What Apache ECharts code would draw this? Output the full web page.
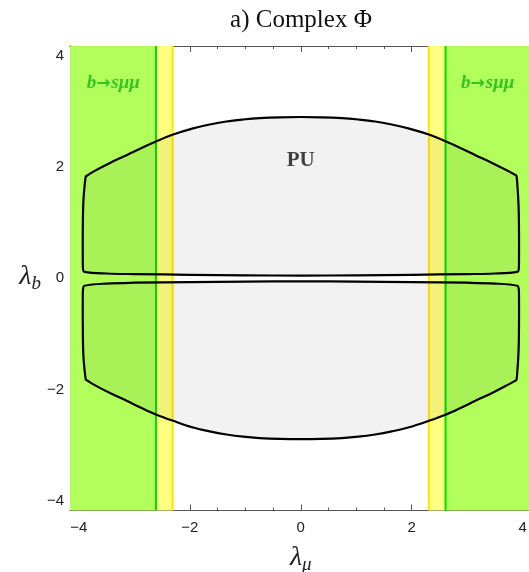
<!DOCTYPE html>
<html>
<head>
<meta charset="utf-8">
<script src="https://cdn.jsdelivr.net/npm/echarts@6/dist/echarts.min.js"></script>
<style>
  html, body { margin: 0; padding: 0; background: #fff; }
  #chart { width: 529px; height: 572px; }
</style>
</head>
<body>
<div id="chart"></div>
<script>
// axis ranges and ticks
const xRange = [-4.16, 4.16];
const yRange = [-4.17, 4.17];
const majorTicks = [-4, -2, 0, 2, 4];
const minorTicks = [-4, -3.5, -3, -2.5, -2, -1.5, -1, -0.5, 0, 0.5, 1, 1.5, 2, 2.5, 3, 3.5, 4];

// excluded bands [from, to]
const greenBands = [[-4.16, -2.61], [2.61, 4.16]];
const yellowBands = [[-2.61, -2.31], [2.31, 2.61]];

// PU region outlines
const upperOutline = [
  [-3.90, 0.115], [-3.925, 0.16], [-3.93, 0.4], [-3.93, 0.8], [-3.925, 1.2], [-3.915, 1.45],
  [-3.895, 1.68], [-3.882, 1.79], [-3.874, 1.83], [-3.85, 1.845], [-3.74, 1.915], [-3.44, 2.07],
  [-3.14, 2.21], [-2.87, 2.34], [-2.60, 2.46], [-2.30, 2.58], [-1.94, 2.69], [-1.64, 2.76],
  [-1.34, 2.815], [-1.04, 2.85], [-0.74, 2.875], [-0.37, 2.89], [0, 2.895], [0.37, 2.89],
  [0.74, 2.875], [1.04, 2.85], [1.34, 2.815], [1.64, 2.76], [1.94, 2.69], [2.31, 2.58],
  [2.61, 2.46], [2.88, 2.34], [3.15, 2.21], [3.45, 2.07], [3.74, 1.925], [3.86, 1.86],
  [3.886, 1.845], [3.895, 1.80], [3.905, 1.68], [3.92, 1.45], [3.93, 1.2], [3.935, 0.8],
  [3.935, 0.4], [3.93, 0.16], [3.905, 0.115], [3.5, 0.085], [3.0, 0.075], [2.0, 0.062],
  [1.0, 0.052], [0, 0.048], [-1.0, 0.052], [-2.0, 0.062], [-3.0, 0.075], [-3.5, 0.085]
];
const lowerOutline = [
  [-3.90, -0.135], [-3.925, -0.19], [-3.93, -0.4], [-3.93, -0.8], [-3.925, -1.2], [-3.915, -1.45],
  [-3.895, -1.67], [-3.882, -1.78], [-3.874, -1.82], [-3.85, -1.835], [-3.74, -1.905], [-3.44, -2.06],
  [-3.14, -2.20], [-2.87, -2.33], [-2.60, -2.45], [-2.30, -2.56], [-1.94, -2.68], [-1.64, -2.75],
  [-1.34, -2.805], [-1.04, -2.845], [-0.74, -2.87], [-0.37, -2.885], [0, -2.89], [0.37, -2.885],
  [0.74, -2.87], [1.04, -2.845], [1.34, -2.805], [1.64, -2.75], [1.94, -2.68], [2.31, -2.56],
  [2.61, -2.45], [2.88, -2.33], [3.15, -2.20], [3.45, -2.06], [3.74, -1.91], [3.86, -1.845],
  [3.886, -1.83], [3.895, -1.79], [3.905, -1.67], [3.92, -1.45], [3.93, -1.2], [3.935, -0.8],
  [3.935, -0.4], [3.93, -0.19], [3.905, -0.135], [3.5, -0.095], [3.0, -0.08], [2.0, -0.068],
  [1.0, -0.06], [0, -0.057], [-1.0, -0.06], [-2.0, -0.068], [-3.0, -0.08], [-3.5, -0.095]
];
const regions = [upperOutline, lowerOutline];

// text labels
const bsLabelPos = [[-3.38, 3.5], [3.37, 3.5]];
const puLabelPos = [[0, 2.12]];

const chart = echarts.init(document.getElementById('chart'));

const fmt = (v) => (v < 0 ? '\u2212' + Math.abs(v) : String(v));
const frame = { show: true, onZero: false, lineStyle: { color: '#555', width: 1 } };

function makeAxis(pos, ticks, len, labels, extra) {
  return Object.assign({
    type: 'value',
    position: pos,
    axisLine: frame,
    axisTick: { show: true, inside: true, length: len, customValues: ticks, lineStyle: { color: '#555' } },
    axisLabel: labels
      ? { show: true, customValues: majorTicks, formatter: fmt, fontFamily: 'Liberation Sans', fontSize: 15, color: '#222', margin: pos === 'bottom' ? 10 : 6 }
      : { show: false },
    splitLine: { show: false }
  }, extra);
}

function bandSeries(bands, fill, edge) {
  return {
    type: 'custom',
    xAxisIndex: 0, yAxisIndex: 0,
    silent: true,
    data: bands.map((b) => [b[0], b[1]]),
    renderItem: function (params, api) {
      const x0 = api.value(0), x1 = api.value(1);
      const tl = api.coord([x0, yRange[1]]);
      const br = api.coord([x1, yRange[0]]);
      const inner = Math.abs(x0) < Math.abs(x1) ? x0 : x1;
      const top = api.coord([inner, yRange[1]]);
      const bot = api.coord([inner, yRange[0]]);
      return {
        type: 'group',
        children: [
          { type: 'rect', shape: { x: tl[0], y: tl[1], width: br[0] - tl[0], height: br[1] - tl[1] }, style: { fill: fill } },
          { type: 'line', shape: { x1: top[0], y1: top[1], x2: bot[0], y2: bot[1] }, style: { stroke: edge, lineWidth: 2 } }
        ]
      };
    }
  };
}

const nameRich = {
  l: { fontFamily: 'Liberation Serif', fontStyle: 'italic', fontSize: 28, color: '#222', verticalAlign: 'top' },
  s: { fontFamily: 'Liberation Serif', fontStyle: 'italic', fontSize: 19, color: '#222', verticalAlign: 'bottom', padding: [12, 0, 0, 0] }
};

const option = {
  animation: false,
  title: {
    text: 'a) Complex \u03a6',
    left: 296, top: 3, textAlign: 'center',
    textStyle: { fontFamily: 'Liberation Serif', fontWeight: 'normal', fontSize: 25, color: '#111' }
  },
  grid: { left: 70, top: 46, width: 461.5, height: 464.5, containLabel: false, outerBoundsMode: 'none' },
  xAxis: [
    makeAxis('bottom', majorTicks, 6, true, {
      min: xRange[0], max: xRange[1],
      name: '{l|\u03bb}{s|\u03bc}', nameLocation: 'middle', nameGap: 33,
      nameTextStyle: { rich: nameRich }
    }),
    makeAxis('bottom', minorTicks, 3, false, { min: xRange[0], max: xRange[1] }),
    makeAxis('top', majorTicks, 6, false, { min: xRange[0], max: xRange[1] }),
    makeAxis('top', minorTicks, 3, false, { min: xRange[0], max: xRange[1] })
  ],
  yAxis: [
    makeAxis('left', majorTicks, 6, true, {
      min: yRange[0], max: yRange[1],
      name: '{l|\u03bb}{s|b}', nameLocation: 'middle', nameGap: 23, nameRotate: 0,
      nameTextStyle: { rich: nameRich }
    }),
    makeAxis('left', minorTicks, 3, false, { min: yRange[0], max: yRange[1] }),
    makeAxis('right', majorTicks, 6, false, { min: yRange[0], max: yRange[1] }),
    makeAxis('right', minorTicks, 3, false, { min: yRange[0], max: yRange[1] })
  ],
  series: [
    bandSeries(yellowBands, '#ffff80', '#ffe600'),
    bandSeries(greenBands, '#b2ff5c', '#00e000'),
    {
      type: 'custom',
      xAxisIndex: 0, yAxisIndex: 0,
      silent: true,
      data: regions.map((r) => r[0]),
      renderItem: function (params, api) {
        const pts = regions[params.dataIndex].map((p) => api.coord(p));
        return {
          type: 'polygon',
          shape: { points: pts, smooth: 0.35 },
          style: { fill: 'rgba(0,0,0,0.052)', stroke: '#000', lineWidth: 2.2, lineJoin: 'round' }
        };
      }
    },
    {
      type: 'scatter',
      xAxisIndex: 0, yAxisIndex: 0,
      silent: true,
      symbolSize: 1,
      itemStyle: { color: 'rgba(0,0,0,0)' },
      data: bsLabelPos,
      label: {
        show: true, position: 'inside', formatter: '{t|b}{a|\u2192}{t|s\u03bc\u03bc}',
        rich: {
          t: { fontFamily: 'Liberation Serif', fontStyle: 'italic', fontWeight: 'bold', fontSize: 19, color: '#14b414' },
          a: { fontFamily: 'DejaVu Sans', fontWeight: 'bold', fontSize: 17, color: '#14b414', padding: [0, 1, 0, 0] }
        }
      }
    },
    {
      type: 'scatter',
      xAxisIndex: 0, yAxisIndex: 0,
      silent: true,
      symbolSize: 1,
      itemStyle: { color: 'rgba(0,0,0,0)' },
      data: puLabelPos,
      label: {
        show: true, position: 'inside', formatter: 'PU',
        fontFamily: 'Liberation Serif', fontWeight: 'bold', fontSize: 21, color: '#111'
      }
    }
  ]
};

chart.setOption(option);
window.addEventListener('resize', () => chart.resize());
</script>
</body>
</html>
